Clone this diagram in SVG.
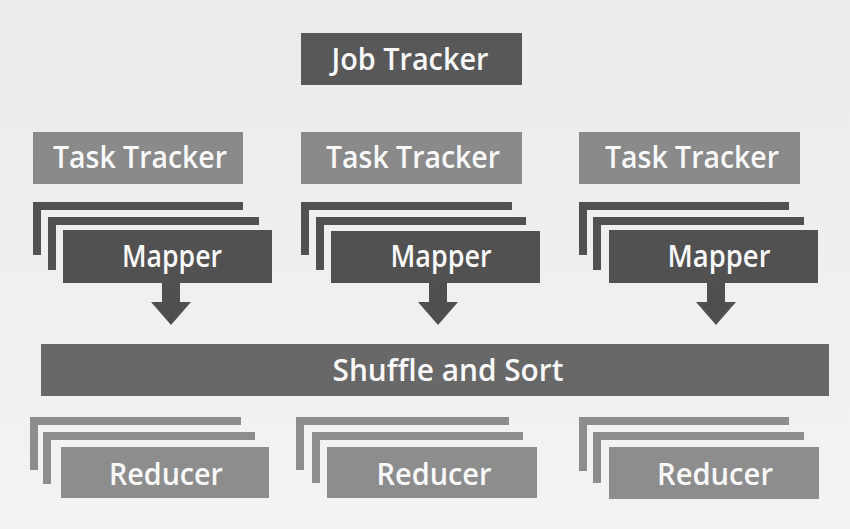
<svg xmlns="http://www.w3.org/2000/svg" width="850" height="529" viewBox="0 0 850 529">
  <defs>
    <linearGradient id="bg" x1="0" y1="0" x2="0" y2="1">
      <stop offset="0" stop-color="#ebebeb"/>
      <stop offset="1" stop-color="#f3f3f3"/>
    </linearGradient>
    <style>
      .lbl { font-family: "Open Sans", "DejaVu Sans Condensed", "Liberation Sans", sans-serif; font-weight: 600; font-size: 31px; fill: #f8f8f8; text-anchor: middle; }
      .job { fill: #585858; }
      .task { fill: #8a8a8a; }
      .map { fill: #515151; }
      .shuf { fill: #686868; }
      .red { fill: #8d8d8d; }
      .arrow { fill: #4f4f4f; }
    </style>
  </defs>
  <rect x="0" y="0" width="850" height="529" fill="url(#bg)"/>

  <g id="job-tracker">
    <rect class="job" x="301" y="33" width="221" height="52"/>
    <text class="lbl" x="410" y="70" textLength="157" lengthAdjust="spacingAndGlyphs">Job Tracker</text>
  </g>

  <g id="task-tracker-1">
    <rect class="task" x="33" y="132" width="210" height="52"/>
    <text class="lbl" x="140" y="168" textLength="174" lengthAdjust="spacingAndGlyphs">Task Tracker</text>
  </g>
  <g id="task-tracker-2">
    <rect class="task" x="301" y="132" width="221" height="52"/>
    <text class="lbl" x="413" y="168" textLength="174" lengthAdjust="spacingAndGlyphs">Task Tracker</text>
  </g>
  <g id="task-tracker-3">
    <rect class="task" x="579" y="132" width="221" height="52"/>
    <text class="lbl" x="692" y="168" textLength="174" lengthAdjust="spacingAndGlyphs">Task Tracker</text>
  </g>

  <g id="mapper-1">
    <path class="map" d="M33 202 H243 V210 H41 V255 H33 Z"/>
    <path class="map" d="M48 217 H259 V225 H56 V270 H48 Z"/>
    <rect class="map" x="63" y="230" width="209" height="53"/>
    <text class="lbl" x="172" y="267" textLength="100" lengthAdjust="spacingAndGlyphs">Mapper</text>
  </g>
  <g id="mapper-2">
    <path class="map" d="M301 202 H512 V210 H309 V255 H301 Z"/>
    <path class="map" d="M316 217 H526 V225 H324 V270 H316 Z"/>
    <rect class="map" x="331" y="231" width="209" height="52"/>
    <text class="lbl" x="441" y="267" textLength="101" lengthAdjust="spacingAndGlyphs">Mapper</text>
  </g>
  <g id="mapper-3">
    <path class="map" d="M579 202 H789 V210 H587 V255 H579 Z"/>
    <path class="map" d="M593 217 H804 V225 H601 V270 H593 Z"/>
    <rect class="map" x="609" y="230" width="209" height="53"/>
    <text class="lbl" x="719" y="267" textLength="103" lengthAdjust="spacingAndGlyphs">Mapper</text>
  </g>

  <g id="shuffle-and-sort">
    <rect class="shuf" x="41" y="344" width="788" height="52"/>
    <text class="lbl" x="448" y="381" textLength="231" lengthAdjust="spacingAndGlyphs">Shuffle and Sort</text>
  </g>

  <g id="reducer-1">
    <path class="red" d="M30 417 H241 V425 H38 V470 H30 Z"/>
    <path class="red" d="M43 432 H255 V440 H51 V484 H43 Z"/>
    <rect class="red" x="61" y="447" width="208" height="51"/>
    <text class="lbl" x="166" y="485" textLength="114" lengthAdjust="spacingAndGlyphs">Reducer</text>
  </g>
  <g id="reducer-2">
    <path class="red" d="M296 417 H509 V425 H304 V470 H296 Z"/>
    <path class="red" d="M312 432 H523 V440 H320 V483 H312 Z"/>
    <rect class="red" x="327" y="447" width="210" height="51"/>
    <text class="lbl" x="434" y="485" textLength="115" lengthAdjust="spacingAndGlyphs">Reducer</text>
  </g>
  <g id="reducer-3">
    <path class="red" d="M579 417 H789 V425 H587 V471 H579 Z"/>
    <path class="red" d="M593 432 H804 V440 H601 V483 H593 Z"/>
    <rect class="red" x="609" y="447" width="210" height="52"/>
    <text class="lbl" x="715" y="485" textLength="116" lengthAdjust="spacingAndGlyphs">Reducer</text>
  </g>

  <g id="connectors">
    <path class="arrow" d="M162 283 H180 V302 H191 L171 325 L151 302 H162 Z"/>
    <path class="arrow" d="M429 283 H447 V302 H458 L438 325 L418 302 H429 Z"/>
    <path class="arrow" d="M707 283 H725 V302 H736 L716 325 L696 302 H707 Z"/>
  </g>
</svg>
